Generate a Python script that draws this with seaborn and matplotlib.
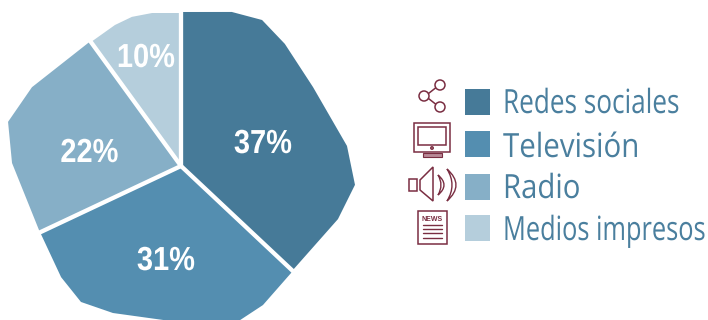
import numpy as np
import matplotlib
matplotlib.use("Agg")
import matplotlib.pyplot as plt
from matplotlib.patches import Rectangle, Circle, Polygon, PathPatch
from matplotlib.path import Path
from matplotlib.patheffects import AbstractPathEffect
from matplotlib.text import Text
from matplotlib.transforms import Affine2D, Bbox
import seaborn as sns

# Share of each medium, in percent
categories = ["Redes sociales", "Televisión", "Radio", "Medios impresos"]
shares = [37, 31, 22, 10]
slice_colors = ["#467A98", "#548EB0", "#86AFC7", "#B5CEDC"]

# Irregular rim of the pie: position along each slice (0-1) and radius there
rim_positions = [
    [0, .137, .218, .303, .444, .624, .722, .816, 1],
    [0, .146, .231, .358, .479, .642, .745, .842, 1],
    [0, .331, .499, .670, 1],
    [0, .303, .494, .703, 1],
]
rim_radii = [
    [154, 162.2, 167, 160.3, 153.8, 167.2, 175, 165.7, 152.8],
    [153.4, 161.4, 165, 158, 155, 162, 168.8, 163.5, 155.7],
    [155.9, 169, 178.5, 168.6, 154.2],
    [153.2, 155.7, 157, 155.7, 153],
]

W, H = 708, 320
CX, CY, RMAX = 181, 166, 200
TEXT_BLUE = "#4A7F9E"
ICON = "#7A2E42"


class _Squeeze(AbstractPathEffect):
    """Scale glyph outlines horizontally around a fixed display x."""

    def __init__(self, sx, x0):
        super().__init__()
        self.sx, self.x0 = sx, x0

    def draw_path(self, renderer, gc, tpath, affine, rgbFace=None):
        squeeze = Affine2D().translate(-self.x0, 0).scale(self.sx, 1).translate(self.x0, 0)
        renderer.draw_path(gc, tpath, affine + squeeze, rgbFace)


class CondensedText(Text):
    """Text set in a condensed width, for families without a narrow cut."""

    def __init__(self, x, y, s, sx, **kw):
        super().__init__(x, y, s, **kw)
        self.sx = sx

    def draw(self, renderer):
        x0 = self.get_transform().transform(self.get_position())[0]
        self.set_path_effects([_Squeeze(self.sx, x0)])
        super().draw(renderer)

    def _get_layout(self, renderer):
        # The reported box follows the condensed width; glyph offsets stay as laid out
        box, info, descent = super()._get_layout(renderer)
        narrow = Bbox.from_extents(box.x0 * self.sx, box.y0, box.x1 * self.sx, box.y1)
        return narrow, info, descent


sns.set_theme(style="white")
plt.rcParams["font.family"] = ["Open Sans", "DejaVu Sans"]

fig = plt.figure(figsize=(W / 100, H / 100), dpi=100, facecolor="white")

# Polar axes sized so one radial unit equals one pixel
ax = fig.add_axes([(CX - RMAX) / W, (H - CY - RMAX) / H, 2 * RMAX / W, 2 * RMAX / H],
                  projection="polar")
ax.set_theta_zero_location("N")
ax.set_theta_direction(-1)
ax.axis("off")

edges = np.cumsum([0] + shares) / sum(shares) * 2 * np.pi
palette = sns.color_palette(slice_colors)
for i, color in enumerate(palette):
    theta = edges[i] + np.array(rim_positions[i]) * (edges[i + 1] - edges[i])
    ax.fill(np.r_[0, theta], np.r_[0, rim_radii[i]], color=color, lw=0, clip_on=False)
for edge in edges[:-1]:
    ax.plot([edge, edge], [0, 185], color="white", lw=3.1, clip_on=False, solid_capstyle="butt")
ax.set_ylim(0, RMAX)

# Overlay in pixel coordinates for the labels and the key
ov = fig.add_axes([0, 0, 1, 1], facecolor="none")
ov.set_xlim(0, W)
ov.set_ylim(H, 0)
ov.axis("off")

label_spots = [(263, 153), (166, 270), (89.5, 162), (146, 67)]
for value, (x, y) in zip(shares, label_spots):
    ov.add_artist(CondensedText(x, y, f"{value}%", 0.87, color="white", fontsize=24,
                                fontweight="bold", family=["Liberation Sans", "DejaVu Sans"],
                                ha="center", va="baseline"))

key_rows = [(89, 113), (131, 157), (174, 198), (215, 240)]
key_squeeze = [0.785, 0.885, 0.88, 0.762]
for name, color, (top, base), sx in zip(categories, palette, key_rows, key_squeeze):
    ov.add_patch(Rectangle((465, top), 25, 25.5, color=color, lw=0))
    ov.add_artist(CondensedText(503, base, name, sx, color=TEXT_BLUE, fontsize=24,
                                ha="left", va="baseline"))

stroke = dict(fill=False, ec=ICON, lw=1.1)

# Share icon
for c in [(440, 85), (424, 96), (440, 107)]:
    ov.add_patch(Circle(c, 5, **stroke))
ov.plot([428.5, 435.5], [93.5, 88], color=ICON, lw=1.1)
ov.plot([428.5, 435.5], [98.5, 104], color=ICON, lw=1.1)

# Television icon
ov.add_patch(Rectangle((414, 123), 36, 29, **stroke))
ov.add_patch(Rectangle((418, 127), 28, 18, **stroke))
ov.add_patch(Circle((432, 148), 1.2, **stroke))
ov.add_patch(Rectangle((423, 153), 19, 3.5, fc="#B98A97", ec=ICON, lw=0.8))

# Speaker icon
ov.add_patch(Rectangle((409, 179), 8, 12, **stroke))
ov.add_patch(Polygon([(420, 180), (433, 167), (433, 201), (420, 190)], closed=True, **stroke))
for tip_top, tip_low, ctrl_in, ctrl_out in [
    ((438, 175), (438, 195), 444, 450),
    ((447, 169), (447, 201), 457, 465),
]:
    wave = Path(
        [tip_top, (ctrl_out, 185), tip_low, tip_low, (ctrl_in, 185), tip_top, tip_top],
        [Path.MOVETO, Path.CURVE3, Path.CURVE3, Path.LINETO, Path.CURVE3, Path.CURVE3, Path.CLOSEPOLY],
    )
    ov.add_patch(PathPatch(wave, fc="white", ec=ICON, lw=1.0))

# Newspaper icon
ov.add_patch(Rectangle((418, 211), 29, 33, **stroke))
ov.text(432.5, 221, "NEWS", color=ICON, fontsize=5, fontweight="bold",
        family=["Liberation Sans", "DejaVu Sans"], ha="center", va="baseline")
for y in (225, 229, 233, 238):
    ov.plot([423, 442], [y, y], color=ICON, lw=1.0)

fig.savefig("out.png", dpi=100)
